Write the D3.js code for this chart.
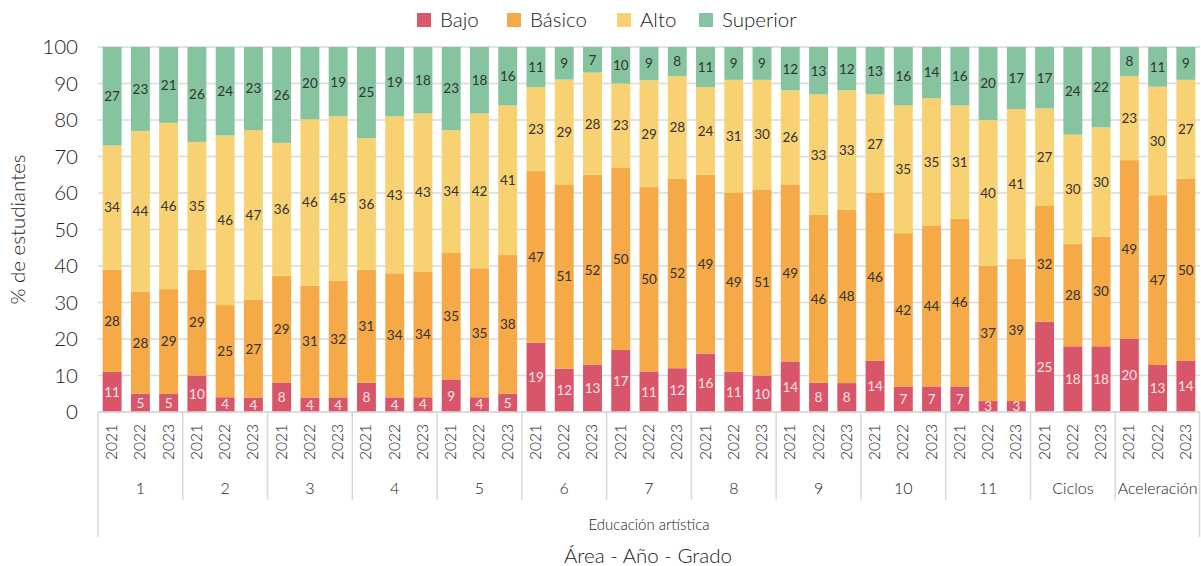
<!DOCTYPE html>
<html><head><meta charset="utf-8">
<script src="https://cdn.jsdelivr.net/npm/d3@7"></script>
<style>body{margin:0;background:#fff}svg{display:block;font-family:Lato,"Open Sans",sans-serif}.lt{font-weight:300}</style>
</head><body><svg id="c" width="1201" height="566"></svg>
<script>
const groups = ["1","2","3","4","5","6","7","8","9","10","11","Ciclos","Aceleración"];
const years = ["2021","2022","2023"];
const area = "Educación artística";
const seriesNames = ["Bajo","Básico","Alto","Superior"];
const bajo = [11,5,5,10,4,4,8,4,4,8,4,4,9,4,5,19,12,13,17,11,12,16,11,10,14,8,8,14,7,7,7,3,3,25,18,18,20,13,14];
const basico = [28,28,29,29,25,27,29,31,32,31,34,34,35,35,38,47,51,52,50,50,52,49,49,51,49,46,48,46,42,44,46,37,39,32,28,30,49,47,50];
const alto = [34,44,46,35,46,47,36,46,45,36,43,43,34,42,41,23,29,28,23,29,28,24,31,30,26,33,33,27,35,35,31,40,41,27,30,30,23,30,27];
const superior = [27,23,21,26,24,23,26,20,19,25,19,18,23,18,16,11,9,7,10,9,8,11,9,9,12,13,12,13,16,14,16,20,17,17,24,22,8,11,9];
const yTicks = [0,10,20,30,40,50,60,70,80,90,100];

const colors = ["#D9566A","#F5AA47","#F8D172","#86C49F"];
const labelColors = ["#FBE3E6","#333333","#333333","#333333"];

const rows = bajo.map((d,i)=>({i, g:groups[Math.floor(i/3)], yr:years[i%3], Bajo:d, "Básico":basico[i], Alto:alto[i], Superior:superior[i]}));
const stack = d3.stack().keys(seriesNames).offset(d3.stackOffsetExpand)(rows);

const svg = d3.select("#c");
const L=98, R=1200, T=47, B=412;
const x = d3.scaleBand().domain(rows.map(r=>r.i)).range([L,R]).paddingInner(0.33).paddingOuter(0.165);
const y = d3.scaleLinear().domain([0,100]).range([B,T]);

svg.append("g").selectAll("line").data(yTicks).join("line")
  .attr("x1",L).attr("x2",R).attr("y1",d=>y(d)).attr("y2",d=>y(d))
  .attr("stroke","#d9d9d9").attr("stroke-width",1.3);

const ya = svg.append("g").attr("transform",`translate(${L},0)`).call(d3.axisLeft(y).tickValues(yTicks).tickSize(0).tickPadding(20));
ya.select(".domain").remove();
ya.selectAll("text").attr("font-size",20.5).attr("fill","#222").attr("font-family","Lato").attr("class","lt");

const layers = svg.append("g").selectAll("g").data(stack).join("g").attr("fill",(d,k)=>colors[k]);
layers.selectAll("rect").data(d=>d).join("rect")
  .attr("x",d=>x(d.data.i)).attr("width",x.bandwidth())
  .attr("y",d=>y(d[1]*100)).attr("height",d=>y(d[0]*100)-y(d[1]*100));

const lab = svg.append("g").attr("text-anchor","middle").attr("font-size",13.5);
stack.forEach((s,k)=>{
  lab.append("g").attr("fill",labelColors[k]).selectAll("text").data(s).join("text")
    .attr("x",d=>x(d.data.i)+x.bandwidth()/2)
    .attr("y",d=>(y(d[0]*100)+y(d[1]*100))/2)
    .attr("dy","0.36em")
    .text(d=>d.data[s.key]);
});

svg.append("line").attr("x1",L).attr("x2",R).attr("y1",B).attr("y2",B).attr("stroke","#d9d9d9").attr("stroke-width",1.5);

svg.append("g").selectAll("text").data(rows).join("text")
  .attr("transform",d=>`translate(${x(d.i)+x.bandwidth()/2+5},${424}) rotate(-90)`)
  .attr("text-anchor","end").attr("font-size",15.5).attr("fill","#222").attr("class","lt").text(d=>d.yr);

const step = x.step();
const sep = svg.append("g").attr("stroke","#d9d9d9").attr("stroke-width",1.5);
groups.forEach((g,gi)=>{
  const x0 = x(gi*3) - x.paddingOuter()*step;
  const x1 = x0 + 3*step;
  sep.append("line").attr("x1",x0).attr("x2",x0).attr("y1",B).attr("y2",gi===0?537:500);
  svg.append("text").attr("x",(x0+x1)/2).attr("y",494).attr("text-anchor","middle")
    .attr("font-size",16).attr("fill","#222").attr("class","lt").text(g);
});
sep.append("line").attr("x1",R-0.5).attr("x2",R-0.5).attr("y1",B).attr("y2",537);

svg.append("text").attr("x",(L+R)/2).attr("y",530).attr("text-anchor","middle").attr("font-size",15).attr("fill","#222").attr("class","lt").text(area);
svg.append("text").attr("x",(L+R)/2-1).attr("y",563).attr("text-anchor","middle").attr("font-size",20.5).attr("fill","#222").attr("class","lt").text("Área - Año - Grado");
svg.append("text").attr("transform",`translate(25,${(T+B)/2}) rotate(-90)`).attr("text-anchor","middle").attr("font-size",20.5).attr("fill","#222").attr("class","lt").text("% de estudiantes");

const legX = [417,507,617,699];
const lg = svg.append("g");
seriesNames.forEach((n,k)=>{
  lg.append("rect").attr("x",legX[k]).attr("y",13).attr("width",14).attr("height",14).attr("fill",colors[k]);
  lg.append("text").attr("x",legX[k]+23).attr("y",27).attr("font-size",20.5).attr("fill","#222").attr("class","lt").text(n);
});
</script></body></html>
